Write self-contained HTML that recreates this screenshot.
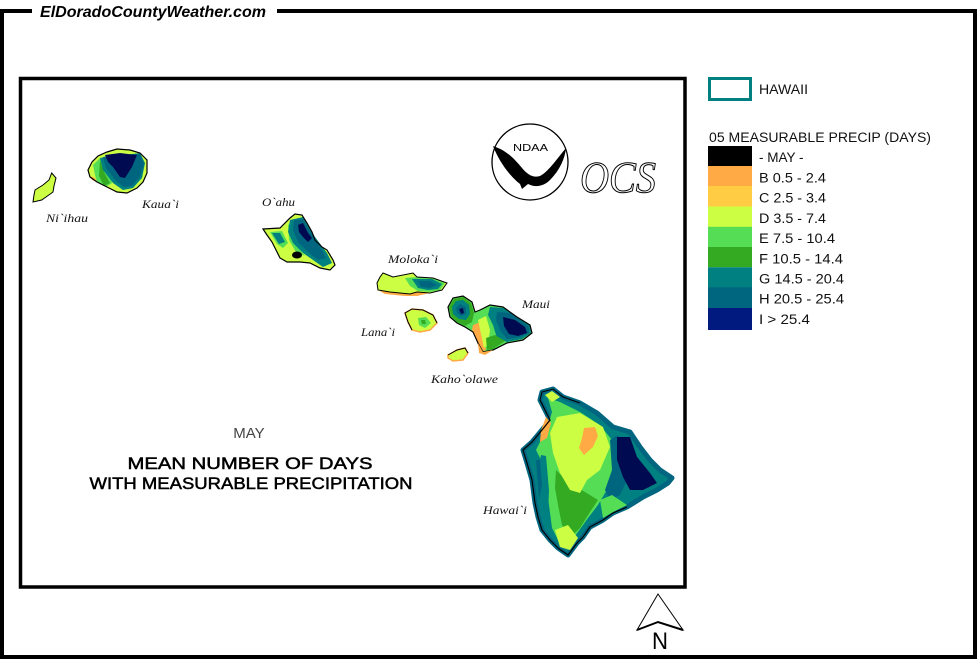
<!DOCTYPE html>
<html><head><meta charset="utf-8"><style>
html,body{margin:0;padding:0;background:#fff;}
svg{display:block;}
</style></head><body>
<svg width="980" height="659" viewBox="0 0 980 659" xmlns="http://www.w3.org/2000/svg">
<rect width="980" height="659" fill="#fff"/>
<!-- outer frame -->
<g stroke="#000" stroke-width="4" fill="none">
<line x1="0" y1="11" x2="32" y2="11"/>
<line x1="277" y1="11" x2="977" y2="11"/>
<line x1="2" y1="9" x2="2" y2="659"/>
<line x1="975" y1="9" x2="975" y2="659"/>
<line x1="0" y1="657" x2="977" y2="657"/>
</g>
<text x="40" y="17" font-family="Liberation Sans, sans-serif" font-size="15.5" font-weight="bold" font-style="italic" textLength="226" lengthAdjust="spacingAndGlyphs">ElDoradoCountyWeather.com</text>
<!-- map box -->
<rect x="20.5" y="78.5" width="664.5" height="508.5" fill="none" stroke="#000" stroke-width="3.5"/>

<!-- Ni'ihau -->
<polygon points="51.7,173 56,178 54,186 53,192 46,197 41.7,200 33,202 34,195 35,190 43,185 49,180" fill="#ccff44" stroke="#000" stroke-width="1"/>

<!-- Kauai -->
<polygon points="88,170 92,162 98,156 107,152 117,149 130,150 140,153 147,160 147,173 143,182 137,188 127,193 117,192 107,187 97,182 90,177" fill="#ccff44"/>
<polygon points="93,165 100,158 107,156 112,183 106,187 97,182 95,175" fill="#55dd55"/>
<polygon points="100,160 104,172 110,183 104,186 99,176" fill="#33aa22"/>
<polygon points="100,158 140,153 145,163 142,178 133,188 123,190 113,183 103,170" fill="#008080"/>
<polygon points="103,157 140,154 144,164 140,177 132,186 124,187 116,181 106,168" fill="#006680"/>
<polygon points="105,155 120,153 137,155 132,167 125,178 120,177 113,167 108,162" fill="#000a50"/>
<polygon points="90,176 95,178 97,182 92,180" fill="#ffaa44"/>
<polygon points="88,170 92,162 98,156 107,152 117,149 130,150 140,153 147,160 147,173 143,182 137,188 127,193 117,192 107,187 97,182 90,177" fill="none" stroke="#000" stroke-width="1.2"/>

<!-- Oahu -->
<polygon points="263,229 280,228 290,218 295,214 302,215 307,223 312,232 315,240 322,247 327,250 333,260 335,265 330,270 320,268 310,263 300,262 287,262 280,258 277,252 272,242 267,235" fill="#ccff44"/>
<polygon points="270,232 282,231 288,243 283,248 277,244" fill="#55dd55"/>
<polygon points="272,233 280,233 285,242 279,244" fill="#008080"/>
<polygon points="288,225 292,222 300,250 305,256 296,252 289,240" fill="#55dd55"/>
<polygon points="290,220 303,217 315,237 327,253 332,263 323,267 313,260 303,253 293,243 288,232" fill="#008080"/>
<polygon points="294,220 303,219 313,236 322,250 326,258 318,260 308,252 298,242 293,230" fill="#006680"/>
<polygon points="298,225 303,223 308,233 312,238 308,242 303,237 299,232" fill="#000a50"/>
<ellipse cx="297" cy="255" rx="5" ry="3.5" fill="#000"/>
<polygon points="263,229 280,228 290,218 295,214 302,215 307,223 312,232 315,240 322,247 327,250 333,260 335,265 330,270 320,268 310,263 300,262 287,262 280,258 277,252 272,242 267,235" fill="none" stroke="#000" stroke-width="1.2"/>

<!-- Molokai -->
<polygon points="377,283 380,277 383,273 393,277 413,273 417,277 433,278 447,283 442,290 430,293 417,292 410,294 390,292 378,290" fill="#ccff44"/>
<polygon points="378,290 390,292 410,294 417,292 430,293 417,296 405,296 385,294" fill="#ffaa44"/>
<polygon points="405,278 417,277 433,278 445,283 440,290 430,292 418,291 410,286" fill="#55dd55"/>
<polygon points="412,279 432,279 442,284 438,289 428,290 418,288" fill="#008080"/>
<polygon points="418,281 430,281 437,285 430,288 421,287" fill="#006680"/>
<polygon points="377,283 380,277 383,273 393,277 413,273 417,277 433,278 447,283 442,290 430,293 417,292 410,294 390,292 378,290" fill="none" stroke="#000" stroke-width="1"/>

<!-- Lanai -->
<polygon points="405,313 412,309 423,310 433,315 437,323 430,330 420,332 412,330 408,322" fill="#ccff44" stroke="#ffaa44" stroke-width="1.5"/>
<polygon points="418,318 426,317 431,323 425,328 419,325" fill="#55dd55"/>
<polygon points="421,320 425,320 426,324 422,324" fill="#33aa22"/>
<polyline points="437,323 433,315 423,310 412,309 405,313 408,322 412,330" fill="none" stroke="#000" stroke-width="1"/>

<!-- Maui -->
<polygon points="448,307 453,298 463,296 472,302 475,312 480,310 490,305 503,307 517,317 530,325 532,333 523,340 507,343 493,350 483,352 478,343 473,332 465,327 457,323 450,317" fill="#55dd55"/>
<polygon points="473,325 480,322 484,335 486,350 480,352 477,342 472,330" fill="#ffaa44"/>
<polygon points="478,320 486,316 490,330 488,345 484,348 481,334" fill="#ccff44"/>
<polygon points="449,307 454,299 463,297 471,303 474,313 472,322 465,326 457,322 451,316" fill="#33aa22"/>
<polygon points="452,307 456,301 463,300 469,305 470,314 466,320 459,319 453,314" fill="#008080"/>
<polygon points="456,308 460,304 466,307 466,314 461,316 457,313" fill="#006680"/>
<polygon points="459,309 463,308 464,313 461,314" fill="#000a50"/>
<polygon points="490,307 503,308 517,317 530,325 531,333 522,339 507,342 497,338 493,325 488,315" fill="#008080"/>
<polygon points="497,312 510,313 520,320 529,327 529,333 520,337 507,339 500,330 496,320" fill="#006680"/>
<polygon points="503,317 515,320 525,327 527,333 518,336 509,334 504,326" fill="#000a50"/>
<polygon points="486,338 495,335 505,341 493,349 487,350" fill="#33aa22"/>
<polygon points="448,307 453,298 463,296 472,302 475,312 480,310 490,305 503,307 517,317 530,325 532,333 523,340 507,343 493,350 483,352 478,343 473,332 465,327 457,323 450,317" fill="none" stroke="#000" stroke-width="1.2"/>
<polygon points="478,343 483,352 493,350 485,355 479,353" fill="#ffaa44"/>

<!-- Kahoolawe -->
<polygon points="448,355 457,350 465,348 468,353 463,360 453,361 448,358" fill="#ccff44" stroke="#ffaa44" stroke-width="1.5"/>
<polyline points="448,355 457,350 465,348 468,353" fill="none" stroke="#000" stroke-width="1"/>

<!-- Hawaii -->
<polygon points="542,392 553,389 563,397 580,403 597,413 613,427 630,432 640,447 650,460 660,470 672,478 668,483 657,490 643,497 627,507 613,513 603,520 590,527 583,537 577,543 568,555 558,548 550,540 542,530 538,517 535,503 532,480 527,463 523,450 532,442 542,430 550,420 545,410 540,400" fill="#008080" stroke="#006680" stroke-width="5" stroke-linejoin="round"/>
<polygon points="548,398 560,402 580,412 600,425 612,440 615,465 608,488 598,505 588,518 578,532 568,545 558,540 552,528 549,505 546,480 541,460 536,450 542,438 548,425 552,412" fill="#55dd55"/>
<polygon points="541,455 546,456 549,490 548,515 543,518 540,490 538,470" fill="#008080"/>
<polygon points="536,460 540,460 542,485 539,500" fill="#006680"/>
<polygon points="556,470 568,482 585,492 598,500 590,512 580,528 570,538 562,525 558,505 555,488" fill="#33aa22"/>
<polygon points="557,417 580,413 603,427 610,447 600,470 587,480 580,493 570,490 560,473 553,453 550,433" fill="#ccff44"/>
<polygon points="584,428 595,427 598,436 593,447 584,455 579,448 582,438" fill="#ffaa44"/>
<polygon points="546,417 551,423 547,438 540,442 541,430" fill="#ffaa44"/>
<polygon points="610,440 618,435 622,460 627,480 620,495 610,500 605,490 612,470" fill="#006680"/>
<polygon points="617,437 630,437 637,457 650,473 657,483 643,490 630,490 623,477 617,460" fill="#000a50"/>
<polygon points="600,500 612,495 627,505 613,512 603,518" fill="#55dd55"/>
<polygon points="555,530 568,525 578,538 570,550 560,547" fill="#ccff44"/>
<polygon points="545,395 552,391 560,397 552,402" fill="#ccff44"/>
<polyline points="540,400 545,410 550,420 542,430 532,442 523,450 527,463 532,480 535,503 538,517 542,530 550,540 558,548 568,555 577,543 583,537 590,527 603,520 613,513 627,507" fill="none" stroke="#000" stroke-width="1.2"/>
<polyline points="540,400 542,392 553,389 563,397 580,403" fill="none" stroke="#000" stroke-width="1"/>

<!-- island labels -->
<g font-family="Liberation Serif, serif" font-style="italic" font-size="12" fill="#111">
<text x="46" y="222" textLength="42" lengthAdjust="spacingAndGlyphs">Ni`ihau</text>
<text x="142" y="208" textLength="37" lengthAdjust="spacingAndGlyphs">Kaua`i</text>
<text x="262" y="206" textLength="33" lengthAdjust="spacingAndGlyphs">O`ahu</text>
<text x="388" y="263" textLength="50" lengthAdjust="spacingAndGlyphs">Moloka`i</text>
<text x="361" y="336" textLength="34" lengthAdjust="spacingAndGlyphs">Lana`i</text>
<text x="522" y="308" textLength="28" lengthAdjust="spacingAndGlyphs">Maui</text>
<text x="431" y="383" textLength="67" lengthAdjust="spacingAndGlyphs">Kaho`olawe</text>
<text x="483" y="514" textLength="44" lengthAdjust="spacingAndGlyphs">Hawai`i</text>
</g>

<!-- NOAA logo -->
<circle cx="530" cy="162" r="38" fill="#fff" stroke="#000" stroke-width="1.3"/>
<path d="M493,146 C505,150 512,156 522,168 C528,175 533,178 540,176 C548,172 556,160 566,148 C565,158 560,170 550,180 C544,186 536,188 528,184 L522,189 L520,184 C512,178 500,164 493,146 Z" fill="#000"/>
<text x="513" y="151" font-family="Liberation Sans, sans-serif" font-size="10" textLength="35" lengthAdjust="spacingAndGlyphs">NDAA</text>
<text x="580" y="192" font-family="Liberation Serif, serif" font-style="italic" font-size="44" fill="#fff" stroke="#000" stroke-width="1" textLength="76" lengthAdjust="spacingAndGlyphs">OCS</text>

<!-- title -->
<g font-family="Liberation Sans, sans-serif" text-anchor="middle">
<text x="249" y="438" font-size="15" fill="#444">MAY</text>
<text x="250" y="469" font-size="17" fill="#000" stroke="#000" stroke-width="0.5" textLength="245" lengthAdjust="spacingAndGlyphs">MEAN NUMBER OF DAYS</text>
<text x="251" y="489" font-size="17" fill="#000" stroke="#000" stroke-width="0.5" textLength="323" lengthAdjust="spacingAndGlyphs">WITH MEASURABLE PRECIPITATION</text>
</g>

<!-- north arrow -->
<polygon points="658,594 637,630 658,622 683,630" fill="#fff" stroke="#000" stroke-width="1"/>
<polyline points="637,630 658,622 683,630" fill="none" stroke="#000" stroke-width="2"/>
<text x="652" y="649" font-family="Liberation Sans, sans-serif" font-size="24" textLength="16" lengthAdjust="spacingAndGlyphs">N</text>

<!-- legend -->
<rect x="709.5" y="78.5" width="41" height="21" fill="#fff" stroke="#008080" stroke-width="3"/>
<g font-family="Liberation Sans, sans-serif" font-size="13.5" fill="#111">
<text x="759" y="94" textLength="49" lengthAdjust="spacingAndGlyphs">HAWAII</text>
<text x="709" y="142" textLength="222" lengthAdjust="spacingAndGlyphs">05 MEASURABLE  PRECIP (DAYS)</text>
</g>
<rect x="708" y="146" width="44" height="20.3" fill="#000"/>
<rect x="708" y="166" width="44" height="20.3" fill="#ffaa44"/>
<rect x="708" y="186" width="44" height="20.7" fill="#ffcc44"/>
<rect x="708" y="206.5" width="44" height="20.5" fill="#ccff44"/>
<rect x="708" y="226.8" width="44" height="20.3" fill="#55dd55"/>
<rect x="708" y="247" width="44" height="20.3" fill="#33aa22"/>
<rect x="708" y="267.3" width="44" height="20.2" fill="#008080"/>
<rect x="708" y="287.4" width="44" height="20.6" fill="#006680"/>
<rect x="708" y="308" width="44" height="22" fill="#001a80"/>
<g font-family="Liberation Sans, sans-serif" font-size="13.5" fill="#111">
<text x="759" y="162">- MAY -</text>
<text x="759" y="182.5" textLength="67" lengthAdjust="spacingAndGlyphs">B 0.5 - 2.4</text>
<text x="759" y="202.7" textLength="67" lengthAdjust="spacingAndGlyphs">C 2.5 - 3.4</text>
<text x="759" y="222.9" textLength="67" lengthAdjust="spacingAndGlyphs">D 3.5 - 7.4</text>
<text x="759" y="243.1" textLength="76" lengthAdjust="spacingAndGlyphs">E 7.5 - 10.4</text>
<text x="759" y="263.3" textLength="84" lengthAdjust="spacingAndGlyphs">F 10.5 - 14.4</text>
<text x="759" y="283.5" textLength="85" lengthAdjust="spacingAndGlyphs">G 14.5 - 20.4</text>
<text x="759" y="303.7" textLength="85" lengthAdjust="spacingAndGlyphs">H 20.5 - 25.4</text>
<text x="759" y="323.9" textLength="51" lengthAdjust="spacingAndGlyphs">I &gt; 25.4</text>
</g>
</svg>
</body></html>
